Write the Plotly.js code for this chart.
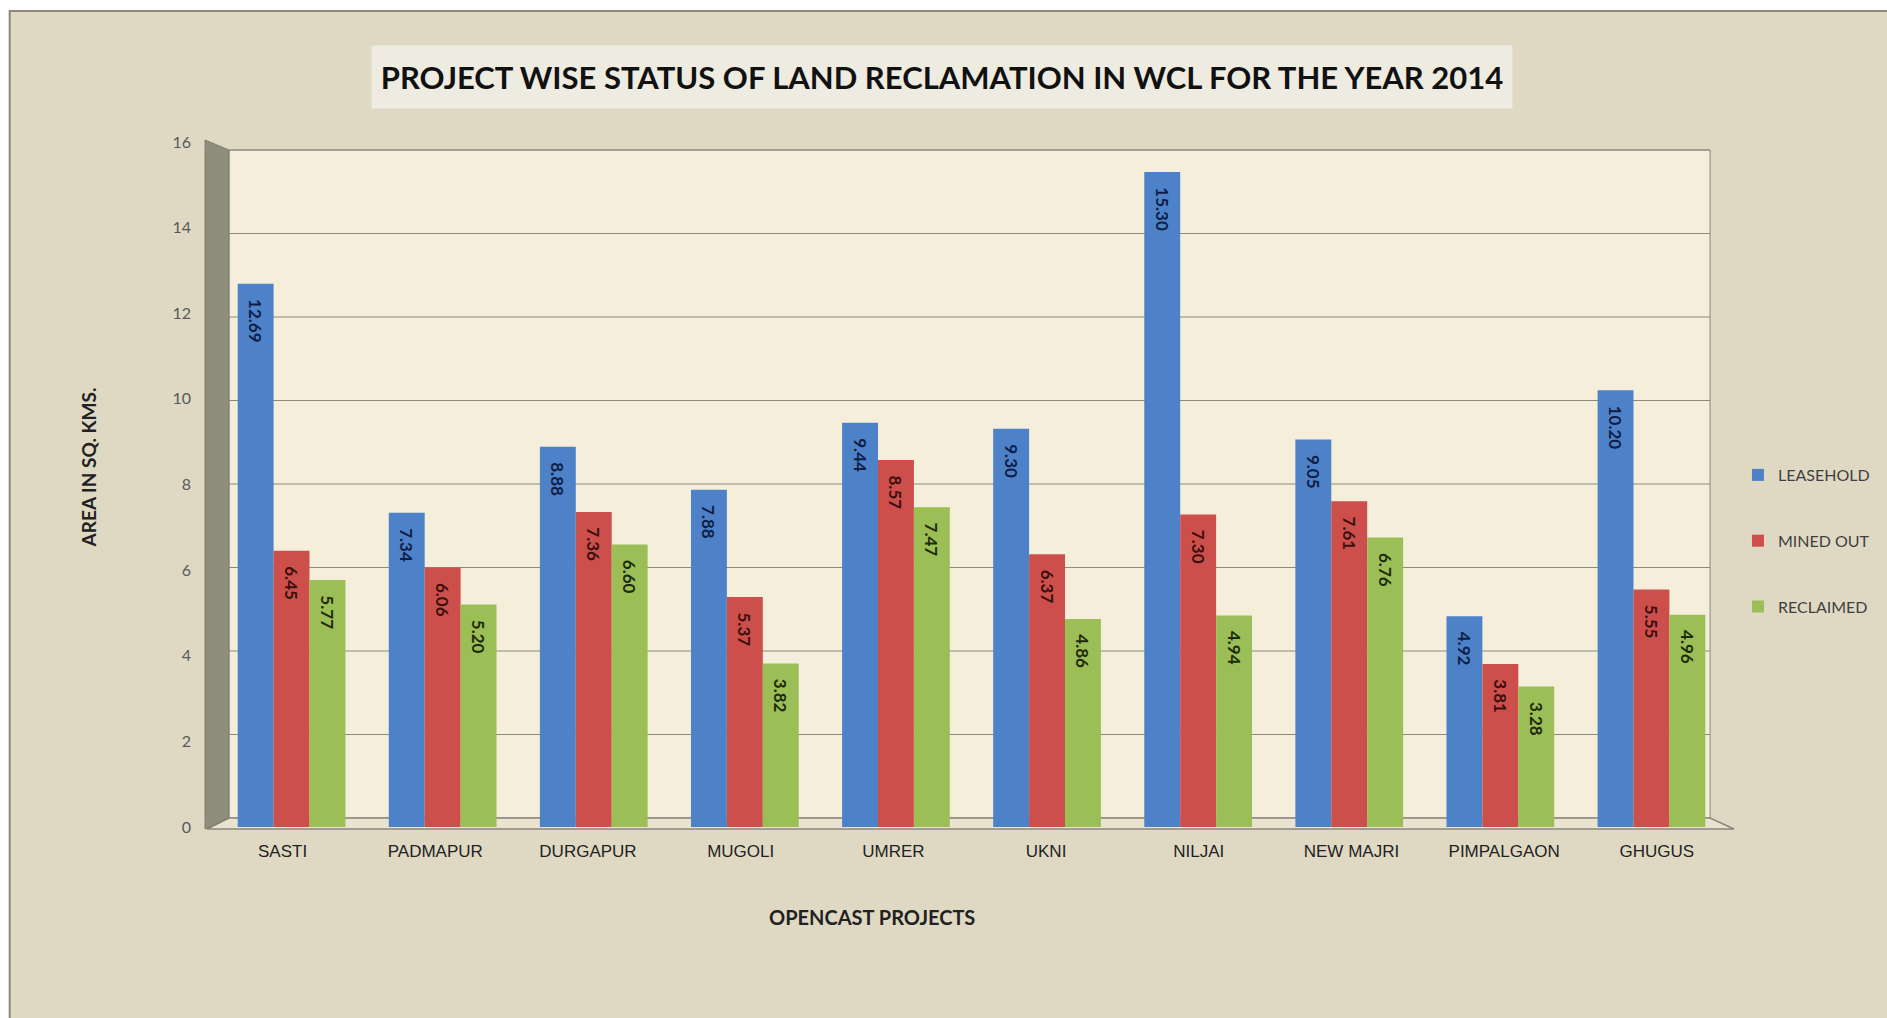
<!DOCTYPE html>
<html>
<head>
<meta charset="utf-8">
<script src="https://cdn.plot.ly/plotly-3.0.1.min.js"></script>
<style>html,body{margin:0;padding:0;background:#fff;}#chart{width:1887px;height:1018px;}</style>
</head>
<body>
<div id="chart"></div>
<script>
const categories = ["SASTI","PADMAPUR","DURGAPUR","MUGOLI","UMRER","UKNI","NILJAI","NEW MAJRI","PIMPALGAON","GHUGUS"];
const leasehold = [12.69, 7.34, 8.88, 7.88, 9.44, 9.30, 15.30, 9.05, 4.92, 10.20];
const minedOut  = [6.45, 6.06, 7.36, 5.37, 8.57, 6.37, 7.30, 7.61, 3.81, 5.55];
const reclaimed = [5.77, 5.20, 6.60, 3.82, 7.47, 4.86, 4.94, 6.76, 3.28, 4.96];
const seriesNames = ["LEASEHOLD","MINED OUT","RECLAIMED"];
const yTicks = [0,2,4,6,8,10,12,14,16];

const W = 1887, H = 1018;
const L = 216, R = 1732, T = 142, B = 827;
const px = x => (x - L) / (R - L);
const py = y => (B - y) / (B - T);

// back wall (perspective) extents in pixels
const wallL = 229, wallR = 1715, wallTop = 150, wallBot = 818;
const wallY = v => py(wallBot - v / 16 * (wallBot - wallTop));

const colors = ["#4E82C8", "#CD4F4C", "#9BBF56"];
const textColors = ["#0f1e46", "#3a0f0e", "#1f2a0c"];
const data = [leasehold, minedOut, reclaimed].map((vals, i) => ({
  type: "bar",
  name: seriesNames[i],
  x: categories,
  y: vals,
  marker: {color: colors[i], line: {width: 0}},
  texttemplate: "<b>\u00a0\u00a0\u00a0%{y:.2f}</b>",
  textposition: "inside",
  insidetextanchor: "end",
  textangle: 90,
  constraintext: "none",
  textfont: {family: "Lato, sans-serif", size: 17, color: textColors[i]},
  legendgroup: "g" + i,
  hoverinfo: "x+y+name"
}));
// empty helper trace so the label axis (perspective-spaced labels) is drawn
data.push({type: "scatter", x: [], y: [], xaxis: "x2", yaxis: "y", showlegend: false, hoverinfo: "skip"});

// label axis: labels sit at a slightly wider spacing than the bars (perspective)
const lab0 = 282.8, labStep = 153.2;
const x2a = -(lab0 - L) / labStep;
const x2b = x2a + (R - L) / labStep;

const gridShapes = yTicks.filter(v => v > 0).map(v => ({
  type: "line", xref: "paper", yref: "paper", layer: "below",
  x0: px(wallL), x1: px(wallR), y0: wallY(v), y1: wallY(v),
  line: {color: "#8c8a7e", width: 1.2}
}));

const layout = {
  width: W, height: H,
  margin: {l: L, r: W - R, t: T, b: H - B, pad: 0},
  paper_bgcolor: "#ffffff",
  plot_bgcolor: "rgba(0,0,0,0)",
  barmode: "group",
  bargap: 0.287,
  bargroupgap: 0,
  showlegend: true,
  legend: {
    x: px(1743), y: py(458), xanchor: "left", yanchor: "top",
    bgcolor: "rgba(0,0,0,0)",
    font: {family: "Lato, sans-serif", size: 16, color: "#404040"},
    tracegroupgap: 42,
    itemwidth: 30
  },
  xaxis: {
    type: "category",
    range: [-0.5, 9.5],
    showgrid: false, zeroline: false, showline: false,
    ticks: "", showticklabels: false,
    fixedrange: true
  },
  xaxis2: {
    overlaying: "x", anchor: "y", side: "bottom",
    range: [x2a, x2b],
    tickvals: categories.map((c, i) => i),
    ticktext: categories,
    showgrid: false, zeroline: false, showline: false,
    ticks: "",
    tickfont: {family: "Liberation Sans, Arial, sans-serif", size: 17, color: "#222"},
    ticklabelstandoff: 12,
    fixedrange: true
  },
  yaxis: {
    range: [0, 16],
    tickvals: yTicks,
    ticktext: yTicks.map(String),
    showgrid: false,
    zeroline: false, showline: false,
    ticks: "",
    tickfont: {family: "Lato, sans-serif", size: 16, color: "#595959"},
    ticklabelstandoff: 24,
    fixedrange: true
  },
  shapes: [
    {type: "rect", xref: "paper", yref: "paper", layer: "below",
     x0: px(9), x1: px(1900), y0: py(11), y1: py(1030),
     fillcolor: "#DFD9C4", line: {color: "#8a877c", width: 2}},
    {type: "rect", xref: "paper", yref: "paper", layer: "below",
     x0: px(wallL), x1: px(wallR), y0: py(wallTop), y1: py(wallBot),
     fillcolor: "#F4EEDB", line: {color: "#8a877c", width: 1}},
    ...gridShapes,
    {type: "path", xref: "paper", yref: "paper", layer: "below",
     path: `M ${px(wallL)} ${py(wallBot)} L ${px(wallR)} ${py(wallBot)} L ${px(1739)} ${py(829)} L ${px(207)} ${py(829)} Z`,
     fillcolor: "#E9E3CF", line: {color: "#8a877c", width: 1.5}},
    {type: "path", xref: "paper", yref: "paper", layer: "between",
     path: `M ${px(205)} ${py(140)} L ${px(wallL)} ${py(wallTop)} L ${px(wallL)} ${py(wallBot)} L ${px(205)} ${py(829)} Z`,
     fillcolor: "#8F8D7B", line: {color: "#7d7b6b", width: 1}}
  ],
  annotations: [
    {text: "<b>PROJECT WISE STATUS OF LAND RECLAMATION IN WCL FOR THE YEAR 2014</b>",
     xref: "paper", yref: "paper", x: px(944), y: py(77), xanchor: "center", yanchor: "middle",
     showarrow: false, bgcolor: "#EEEBE1", width: 1140, height: 62, borderpad: 0,
     font: {family: "Lato, sans-serif", size: 31, color: "#111"}},
    {text: "<b>AREA IN SQ. KMS.</b>",
     xref: "paper", yref: "paper", x: px(88), y: py(467), xanchor: "center", yanchor: "middle",
     textangle: -90, showarrow: false,
     font: {family: "Lato, sans-serif", size: 19, color: "#222"}},
    {text: "<b>OPENCAST PROJECTS</b>",
     xref: "paper", yref: "paper", x: px(874), y: py(917), xanchor: "center", yanchor: "middle",
     showarrow: false,
     font: {family: "Lato, sans-serif", size: 20, color: "#222"}}
  ]
};

Plotly.newPlot("chart", data, layout, {displayModeBar: false, staticPlot: true});
</script>
</body>
</html>
